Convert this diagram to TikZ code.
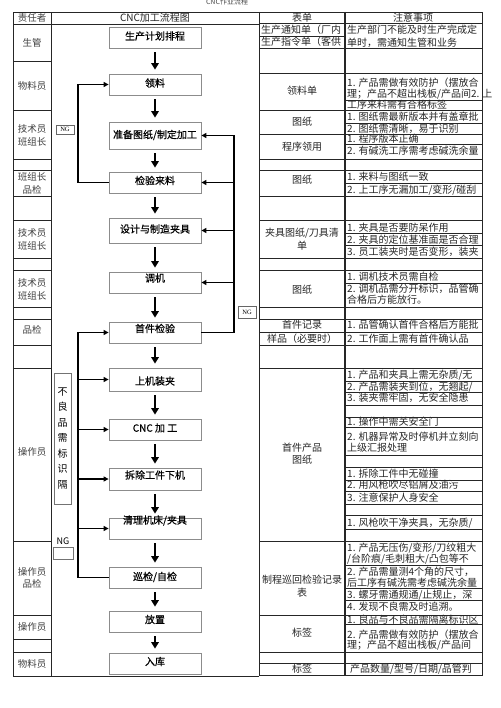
\documentclass[tikz,border=0pt]{standalone}
\usepackage{fontspec}
\setmainfont{Liberation Serif}
\newfontfamily\cjk{Noto Sans CJK SC}
\newfontfamily\cjkb[FakeBold=0.6]{Noto Sans CJK SC}
\usetikzlibrary{arrows.meta}
\tikzset{
  tline/.style={draw=black!85, line width=0.7pt},
  fbox/.style={draw=black!45, line width=0.8pt, fill=white, minimum width=92pt, inner sep=0pt},
  ftext/.style={font=\cjkb\fontsize{10}{12}\selectfont, inner sep=0pt},
  lc/.style={font=\cjk\fontsize{9.5}{11}\selectfont, text=black!75, inner sep=0pt},
  tc/.style={font=\cjk\fontsize{10}{12}\selectfont, text=black!85, inner sep=0pt},
  tl/.style={tc, anchor=west},
  flowarrow/.style={line width=1.8pt, -{Triangle[width=7.5pt,length=6.5pt]}},
  looparrow/.style={line width=1.3pt, -{Triangle[width=5pt,length=5pt]}},
  ngsmall/.style={draw=black!60, line width=0.6pt, inner sep=0pt, font=\fontsize{6.5}{7}\selectfont}
}
\begin{document}
\begin{tikzpicture}[x=1pt,y=-1pt]
\useasboundingbox (0,0) rectangle (500,708);
\fill[white] (0,0) rectangle (500,708);

% title
\node[font=\cjk\fontsize{7}{8}\selectfont, text=black!70, inner sep=0pt] (title) at (227,2) {CNC作业流程};

% ---------- table lines ----------
\draw[tline] (13,12) rectangle (51,676);
\foreach \y in {24,61,110,159,170,196,220,258,270,307,319,345,368,541,615,639,652}
  \draw[tline] (13,\y) -- (51,\y);
\draw[tline] (51,12) -- (259,12);
\draw[tline] (51,24) -- (259,24);
\draw[tline] (51,676) -- (259,676);
\draw[tline] (259,12) -- (259,676);
\draw[tline] (259,12) -- (482,12) -- (482,675) -- (259,675);
\draw[tline, line width=1.1pt] (345,12) -- (345,675);
\foreach \y in {23,36,48,73,110,134,159,170,196,220,258,270,307,319,332,345,368,541,615,652,663}
  \draw[tline] (259,\y) -- (345,\y);
\foreach \y in {23,48,73,100,110,123,134,144,159,170,183,196,220,233,245,258,270,283,307,319,332,345,368,381,392,405,417,427,455,467,480,491,504,515,529,541,565,588,600,615,624,652,663}
  \draw[tline] (345,\y) -- (482,\y);

% ---------- left column texts ----------
\node[lc] (l0) at (32,18) {责任者};
\node[lc] (l1) at (32,42.5) {生管};
\node[lc] (l2) at (32,85.5) {物料员};
\node[lc] (l3a) at (32,129) {技术员};
\node[lc] (l3b) at (32,142) {班组长};
\node[lc] (l4a) at (32,177) {班组长};
\node[lc] (l4b) at (32,190) {品检};
\node[lc] (l5a) at (32,233) {技术员};
\node[lc] (l5b) at (32,246) {班组长};
\node[lc] (l6a) at (32,283) {技术员};
\node[lc] (l6b) at (32,296) {班组长};
\node[lc] (l7) at (32,330) {品检};
\node[lc] (l8) at (32,452) {操作员};
\node[lc] (l9a) at (32,572) {操作员};
\node[lc] (l9b) at (32,584) {品检};
\node[lc] (l10) at (32,626.5) {操作员};
\node[lc] (l11) at (32,664) {物料员};

% header of flow column
\node[tc] (h1) at (155,18) {CNC加工流程图};

% ---------- form column ----------
\node[tc] (f0) at (302,17.5) {表单};
\node[tl] (f1a) at (261,29.5) {生产通知单（厂内};
\node[tl] (f1b) at (261,42) {生产指令单（客供};
\node[tc] (f2) at (302,91) {领料单};
\node[tc] (f3) at (302,122) {图纸};
\node[tc] (f4) at (302,146.5) {程序领用};
\node[tc] (f5) at (302,180) {图纸};
\node[tc] (f6a) at (302,233) {夹具图纸/刀具清};
\node[tc] (f6b) at (302,246) {单};
\node[tc] (f7) at (302,290) {图纸};
\node[tc] (f8) at (302,325) {首件记录};
\node[tc] (f9) at (302,338.5) {样品（必要时）};
\node[tc] (f10a) at (302,448) {首件产品};
\node[tc] (f10b) at (302,460) {图纸};
\node[tc] (f11a) at (302,580) {制程巡回检验记录};
\node[tc] (f11b) at (302,593) {表};
\node[tc] (f12) at (302,633) {标签};
\node[tc] (f13) at (302,669) {标签};

% ---------- notes column ----------
\node[tc] (n0) at (413,17.5) {注意事项};
\node[tl] (n1a) at (347,30) {生产部门不能及时生产完成定};
\node[tl] (n1b) at (347,43) {单时，需通知生管和业务};
\node[tl] (n2a) at (347,83) {1. 产品需做有效防护（摆放合};
\node[tl] (n2b) at (347,94) {理；产品不超出栈板/产品间2. 上};
\node[tl] (n2c) at (347,105) {工序来料需有合格标签};
\node[tl] (n3a) at (347,117) {1. 图纸需最新版本并有盖章批};
\node[tl] (n3b) at (347,128.5) {2. 图纸需清晰，易于识别};
\node[tl] (n4a) at (347,139) {1. 程序版本正确};
\node[tl] (n4b) at (347,151) {2. 有碱洗工序需考虑碱洗余量};
\node[tl] (n5a) at (347,177) {1. 来料与图纸一致};
\node[tl] (n5b) at (347,190) {2. 上工序无漏加工/变形/碰刮};
\node[tl] (n6a) at (347,227.5) {1. 夹具是否要防呆作用};
\node[tl] (n6b) at (347,239.5) {2. 夹具的定位基准面是否合理};
\node[tl] (n6c) at (347,251.5) {3. 员工装夹时是否变形，装夹};
\node[tl] (n7a) at (347,277) {1. 调机技术员需自检};
\node[tl] (n7b) at (347,288.5) {2. 调机品需分开标识，品管确};
\node[tl] (n7c) at (347,299.5) {合格后方能放行。};
\node[tl] (n8) at (347,325) {1. 品管确认首件合格后方能批};
\node[tl] (n9) at (347,338.5) {2. 工作面上需有首件确认品};
\node[tl] (n10a) at (347,375) {1. 产品和夹具上需无杂质/无};
\node[tl] (n10b) at (347,387) {2. 产品需装夹到位，无翘起/};
\node[tl] (n10c) at (347,397.5) {3. 装夹需牢固，无安全隐患};
\node[tl] (n11a) at (347,422) {1. 操作中需关安全门};
\node[tl] (n11b) at (347,437) {2. 机器异常及时停机并立刻向};
\node[tl] (n11c) at (347,448) {上级汇报处理};
\node[tl] (n12a) at (347,474) {1. 拆除工件中无碰撞};
\node[tl] (n12b) at (347,485) {2. 用风枪吹尽铝屑及油污};
\node[tl] (n12c) at (347,497.5) {3. 注意保护人身安全};
\node[tl] (n13) at (347,523) {1. 风枪吹干净夹具，无杂质/};
\node[tl] (n14a) at (347,548) {1. 产品无压伤/变形/刀纹粗大};
\node[tl] (n14b) at (347,559.5) {/台阶痕/毛刺粗大/凸包等不};
\node[tl] (n14c) at (347,572) {2. 产品需量测4个角的尺寸，};
\node[tl] (n14d) at (347,583) {后工序有碱洗需考虑碱洗余量};
\node[tl] (n14e) at (347,595) {3. 螺牙需通规通/止规止，深};
\node[tl] (n14f) at (347,607) {4. 发现不良需及时追溯。};
\node[tl] (n15a) at (347,620) {1. 良品与不良品需隔离标识区};
\node[tl] (n15b) at (347,634.5) {2. 产品需做有效防护（摆放合};
\node[tl] (n15c) at (347,645.5) {理；产品不超出栈板/产品间};
\node[tl] (n16) at (350,669) {产品数量/型号/日期/品管判};

% ---------- flow boxes ----------
\node[fbox, minimum height=21pt] (b1) at (155,37.5) {};
\node[fbox, minimum height=21pt] (b2) at (155,84.5) {};
\node[fbox, minimum height=27pt] (b3) at (155,135.5) {};
\node[fbox, minimum height=21pt] (b4) at (155,182.5) {};
\node[fbox, minimum height=25pt] (b5) at (155,230.5) {};
\node[fbox, minimum height=21pt] (b6) at (155,282.5) {};
\node[fbox, minimum height=21pt] (b7) at (155,332.5) {};
\node[fbox, minimum height=23pt] (b8) at (155,379.5) {};
\node[fbox, minimum height=21pt] (b9) at (155,429.5) {};
\node[fbox, minimum height=22pt] (b10) at (155,479) {};
\node[fbox, minimum height=21pt] (b11) at (155,528.5) {};
\node[fbox, minimum height=21pt] (b12) at (155,577.5) {};
\node[fbox, minimum height=21pt] (b13) at (155,621.5) {};
\node[fbox, minimum height=21pt] (b14) at (155,663.5) {};

\node[ftext] (t1) at (155,36) {生产计划排程};
\node[ftext] (t2) at (155,83) {领料};
\node[ftext] (t3) at (155,135) {准备图纸/制定加工};
\node[ftext] (t4) at (155,180.5) {检验来料};
\node[ftext] (t5) at (155,229) {设计与制造夹具};
\node[ftext] (t6) at (155,278) {调机};
\node[ftext] (t7) at (155,328.5) {首件检验};
\node[ftext] (t8) at (155,381) {上机装夹};
\node[ftext] (t9) at (155,428) {CNC 加 工};
\node[ftext] (t10) at (155,475) {拆除工件下机};
\node[ftext] (t11) at (155,520.5) {清理机床/夹具};
\node[ftext] (t12) at (155,577) {巡检/自检};
\node[ftext] (t13) at (155,619.5) {放置};
\node[ftext] (t14) at (155,661.5) {入库};

% ---------- main flow arrows ----------
\foreach \a/\b in {b1/b2,b2/b3,b3/b4,b4/b5,b5/b6,b6/b7,b7/b8,b8/b9,b9/b10,b10/b11,b11/b12,b12/b13,b13/b14}
  \draw[flowarrow] ([yshift=-4pt]\a.south) -- ([yshift=4pt]\b.north);

% ---------- NG loops ----------
\coordinate (lx) at (78,0);
\coordinate (rx) at (234,0);
\draw[looparrow] (b4.west) -| (lx |- b2.west) -- (b2.west);
\draw[looparrow] (b7.east) -| (rx |- b3.east) -- (b3.east);
\foreach \n in {b4,b5,b6}
  \draw[looparrow] (rx |- \n.east) -- (\n.east);
\draw[looparrow] (b12.west) -| (lx |- b7.west) -- (b7.west);
\foreach \n in {b8,b9,b10,b11}
  \draw[looparrow] (lx |- \n.west) -- (\n.west);

% ---------- NG labels ----------
\node[ngsmall, minimum width=18pt, minimum height=9pt] (ng1) at (65,129.5) {NG};
\node[ngsmall, minimum width=18pt, minimum height=12pt] (ng2) at (247,312) {NG};
\node[draw=black!55, line width=0.8pt, fill=white, minimum width=17pt, minimum height=131pt, inner sep=0pt,
      font=\cjk\fontsize{10}{15.5}\selectfont, align=center] (ngbox) at (62.5,438.5) {不\\良\\品\\需\\标\\识\\隔};
\node[font=\cjk\fontsize{9}{10}\selectfont, inner sep=0pt] (ng3) at (63,541.5) {NG};
\node[draw=black!55, line width=0.7pt, minimum width=20pt, minimum height=12pt, inner sep=0pt] (ng3box) at (63,553) {};
\end{tikzpicture}
\end{document}
